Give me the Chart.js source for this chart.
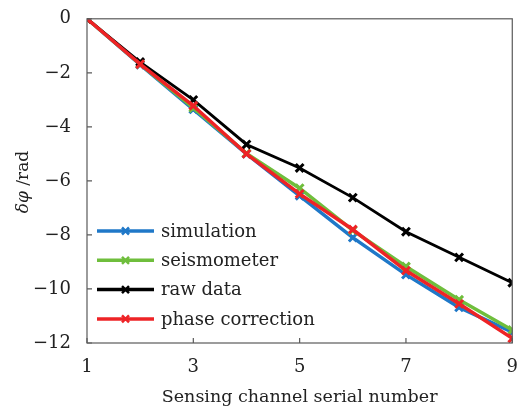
<!DOCTYPE html>
<html>
<head>
    <title>Phase difference per channel</title>
    <script src="https://cdn.jsdelivr.net/npm/chart.js"></script>
    <style>
        html, body { margin: 0; padding: 0; background: #fff; }
        .chart-container { width: 524px; height: 412px; }
    </style>
</head>
<body>
    <div class="chart-container">
        <canvas id="phaseChart"></canvas>
    </div>
    <script>
        // channel numbers along x
        const channels = [1, 2, 3, 4, 5, 6, 7, 8, 9];
        // phase difference (rad) for each method
        const simulation = [0, -1.7, -3.35, -5.0, -6.55, -8.1, -9.47, -10.68, -11.6];
        const seismometer = [0, -1.68, -3.3, -4.98, -6.27, -7.83, -9.17, -10.4, -11.52];
        const rawData = [0, -1.6, -3.0, -4.65, -5.52, -6.62, -7.88, -8.83, -9.77];
        const phaseCorrection = [0, -1.68, -3.22, -5.0, -6.48, -7.8, -9.32, -10.55, -11.83];
        const xTicks = [1, 3, 5, 7, 9];
        const yTicks = [0, -2, -4, -6, -8, -10, -12];

        const serif = '"DejaVu Serif", "Liberation Serif", serif';

        function series(label, values, color, width, order) {
            return {
                label: label,
                data: channels.map((c, i) => ({ x: c, y: values[i] })),
                borderColor: color,
                backgroundColor: color,
                borderWidth: width,
                pointStyle: 'crossRot',
                pointRadius: 5.5,
                pointBorderWidth: 3,
                pointHoverRadius: 5.5,
                tension: 0,
                order: order
            };
        }

        // box + inward ticks + legend + y title, drawn over the plot
        const decorations = {
            id: 'decorations',
            afterDraw(chart) {
                const ctx = chart.ctx;
                const a = chart.chartArea;
                const xs = chart.scales.x, ys = chart.scales.y;
                ctx.save();
                ctx.strokeStyle = '#5a5a5a';
                ctx.lineWidth = 1.2;
                ctx.strokeRect(a.left, a.top, a.right - a.left, a.bottom - a.top);
                ctx.beginPath();
                xTicks.forEach(v => {
                    const px = xs.getPixelForValue(v);
                    ctx.moveTo(px, a.bottom); ctx.lineTo(px, a.bottom - 5);
                });
                yTicks.forEach(v => {
                    const py = ys.getPixelForValue(v);
                    ctx.moveTo(a.left, py); ctx.lineTo(a.left + 5, py);
                });
                ctx.stroke();

                // legend, lower left inside the axes
                const legendOrder = [0, 1, 2, 3];
                ctx.font = '18px ' + serif;
                ctx.textBaseline = 'middle';
                legendOrder.forEach((di, row) => {
                    const ds = chart.data.datasets[di];
                    const y = 231 + row * 29.3;
                    ctx.strokeStyle = ds.borderColor;
                    ctx.lineWidth = 3.5;
                    ctx.beginPath();
                    ctx.moveTo(97, y); ctx.lineTo(154, y);
                    ctx.stroke();
                    ctx.lineWidth = 2.5;
                    ctx.beginPath();
                    ctx.moveTo(122, y - 3.5); ctx.lineTo(129, y + 3.5);
                    ctx.moveTo(129, y - 3.5); ctx.lineTo(122, y + 3.5);
                    ctx.stroke();
                    ctx.fillStyle = '#222';
                    ctx.textAlign = 'left';
                    ctx.fillText(ds.label, 161, y + 1);
                });

                // y axis title with italic symbols
                ctx.translate(24, 182);
                ctx.rotate(-Math.PI / 2);
                ctx.fillStyle = '#222';
                const sym = 'italic 17px ' + serif;
                const unit = '17px ' + serif;
                ctx.font = sym;
                const w1 = ctx.measureText('δφ').width;
                ctx.font = unit;
                const w2 = ctx.measureText(' /rad').width;
                let x0 = -(w1 + w2) / 2;
                ctx.textAlign = 'left';
                ctx.font = sym;
                ctx.fillText('δφ', x0, 0);
                ctx.font = unit;
                ctx.fillText(' /rad', x0 + w1, 0);
                ctx.restore();
            }
        };

        function setupChart() {
            const ctx = document.getElementById('phaseChart').getContext('2d');
            new Chart(ctx, {
                type: 'line',
                data: {
                    datasets: [
                        series('simulation', simulation, '#1f78c8', 3.5, 4),
                        series('seismometer', seismometer, '#6fbe3c', 3.5, 3),
                        series('raw data', rawData, '#000000', 2.8, 2),
                        series('phase correction', phaseCorrection, '#ee2326', 3.5, 1)
                    ]
                },
                options: {
                    responsive: true,
                    maintainAspectRatio: false,
                    animation: false,
                    layout: { padding: { top: 16, right: 7, left: 0, bottom: 0 } },
                    plugins: {
                        legend: { display: false },
                        tooltip: { enabled: false }
                    },
                    scales: {
                        x: {
                            type: 'linear',
                            min: 1,
                            max: 9,
                            afterBuildTicks: s => { s.ticks = xTicks.map(v => ({ value: v })); },
                            afterFit: s => { s.height = 69; },
                            grid: { display: false },
                            border: { display: false },
                            ticks: {
                                color: '#222',
                                padding: 6,
                                maxRotation: 0,
                                font: { family: serif, size: 18 }
                            },
                            title: {
                                display: true,
                                text: 'Sensing channel serial number',
                                color: '#222',
                                padding: { top: 6 },
                                font: { family: serif, size: 17.5 }
                            }
                        },
                        y: {
                            min: -12,
                            max: 0,
                            afterBuildTicks: s => { s.ticks = yTicks.map(v => ({ value: v })); },
                            afterFit: s => { s.width = 87; },
                            grid: { display: false },
                            border: { display: false },
                            ticks: {
                                color: '#222',
                                padding: 8,
                                font: { family: serif, size: 18 },
                                callback: v => (v < 0 ? '\u2212' + Math.abs(v) : '' + v)
                            }
                        }
                    }
                },
                plugins: [decorations]
            });
        }

        window.onload = setupChart;
    </script>
</body>
</html>
